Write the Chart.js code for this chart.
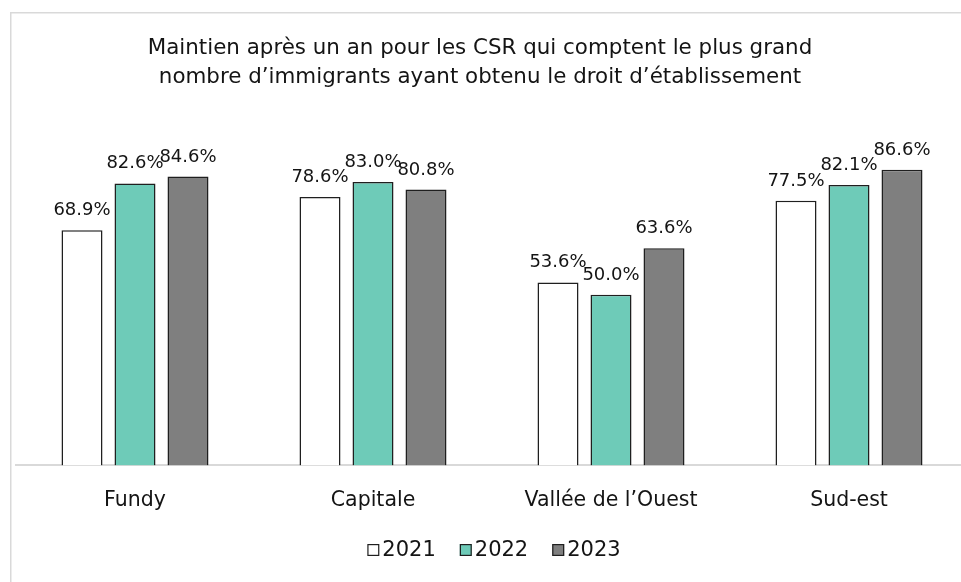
<!DOCTYPE html>
<html>
<head>
<meta charset="utf-8">
<script src="https://cdn.jsdelivr.net/npm/chart.js@4.4.0/dist/chart.umd.min.js"></script>
<style>
html,body{margin:0;padding:0;overflow:hidden;background:#fff;width:961px;height:582px;}
#wrap{position:absolute;left:0;top:0;width:961px;height:582px;overflow:hidden;}
#c{position:absolute;left:0;top:0;}
</style>
</head>
<body>
<div id="wrap"><canvas id="c" width="968" height="582" style="width:968px;height:582px"></canvas></div>
<script>
const categories = ["Fundy", "Capitale", "Vallée de l’Ouest", "Sud-est"];
const years = ["2021", "2022", "2023"];
const values2021 = [68.9, 78.6, 53.6, 77.5];
const values2022 = [82.6, 83.0, 50.0, 82.1];
const values2023 = [84.6, 80.8, 63.6, 86.6];
const titleLines = ["Maintien après un an pour les CSR qui comptent le plus grand", "nombre d’immigrants ayant obtenu le droit d’établissement"];

const FONT = "'DejaVu Sans', sans-serif";
const TXT = '#141414';
const fills = ['#ffffff', '#6ecbb8', '#7f7f7f'];

const frame = {
  id: 'frame',
  beforeDraw(chart) {
    const ctx = chart.ctx;
    ctx.save();
    ctx.strokeStyle = '#d9d9d9';
    ctx.lineWidth = 1.5;
    ctx.beginPath();
    ctx.moveTo(10.75, 600);
    ctx.lineTo(10.75, 12.75);
    ctx.lineTo(1000, 12.75);
    ctx.stroke();
    ctx.restore();
  },
  afterDraw(chart) {
    const ctx = chart.ctx;
    ctx.save();
    // title
    ctx.fillStyle = TXT;
    ctx.font = '21.4px ' + FONT;
    ctx.textAlign = 'center';
    ctx.textBaseline = 'middle';
    titleLines.forEach((l, i) => ctx.fillText(l, 480, 48 + i * 29));
    // data labels
    ctx.font = '18px ' + FONT;
    ctx.textBaseline = 'alphabetic';
    chart.data.datasets.forEach((ds, di) => {
      const meta = chart.getDatasetMeta(di);
      meta.data.forEach((bar, i) => {
        ctx.fillText(ds.data[i].toFixed(1) + '%', bar.x, bar.y - 15);
      });
    });
    // legend
    ctx.font = '21px ' + FONT;
    ctx.textAlign = 'left';
    ctx.textBaseline = 'middle';
    const items = chart.data.datasets.map(d => ({ label: d.label, fill: d.backgroundColor }));
    const box = 12, gap = 3, sep = 24;
    const widths = items.map(it => box + gap + ctx.measureText(it.label).width);
    const total = widths.reduce((a, b) => a + b, 0) + sep * (items.length - 1);
    let x = 494 - total / 2;
    const y = 550;
    items.forEach((it, k) => {
      ctx.fillStyle = it.fill;
      ctx.fillRect(x, y - box / 2, box, box);
      ctx.strokeStyle = '#1f1f1f';
      ctx.lineWidth = 1.2;
      ctx.strokeRect(x + 0.6, y - box / 2 + 0.6, box - 1.2, box - 1.2);
      ctx.fillStyle = TXT;
      ctx.fillText(it.label, x + box + gap, y + 1);
      x += widths[k] + sep;
    });
    ctx.restore();
  }
};

new Chart(document.getElementById('c'), {
  type: 'bar',
  data: {
    labels: categories,
    datasets: [
      { label: years[0], data: values2021, backgroundColor: fills[0] },
      { label: years[1], data: values2022, backgroundColor: fills[1] },
      { label: years[2], data: values2023, backgroundColor: fills[2] }
    ].map(d => Object.assign(d, { borderColor: '#1f1f1f', borderWidth: 1.5, borderSkipped: 'bottom', categoryPercentage: 0.668, barPercentage: 0.774 }))
  },
  options: {
    responsive: false,
    animation: false,
    devicePixelRatio: 1,
    layout: { padding: { left: 16, right: 0, top: 124, bottom: 46 } },
    plugins: { legend: { display: false }, title: { display: false }, tooltip: { enabled: false } },
    scales: {
      y: { display: false, min: 0, max: 100 },
      x: {
        grid: { display: false, drawTicks: false },
        border: { display: true, color: '#d9d9d9', width: 2 },
        ticks: { color: TXT, font: { family: FONT, size: 20.5 }, padding: 23 }
      }
    }
  },
  plugins: [frame]
});
</script>
</body>
</html>
